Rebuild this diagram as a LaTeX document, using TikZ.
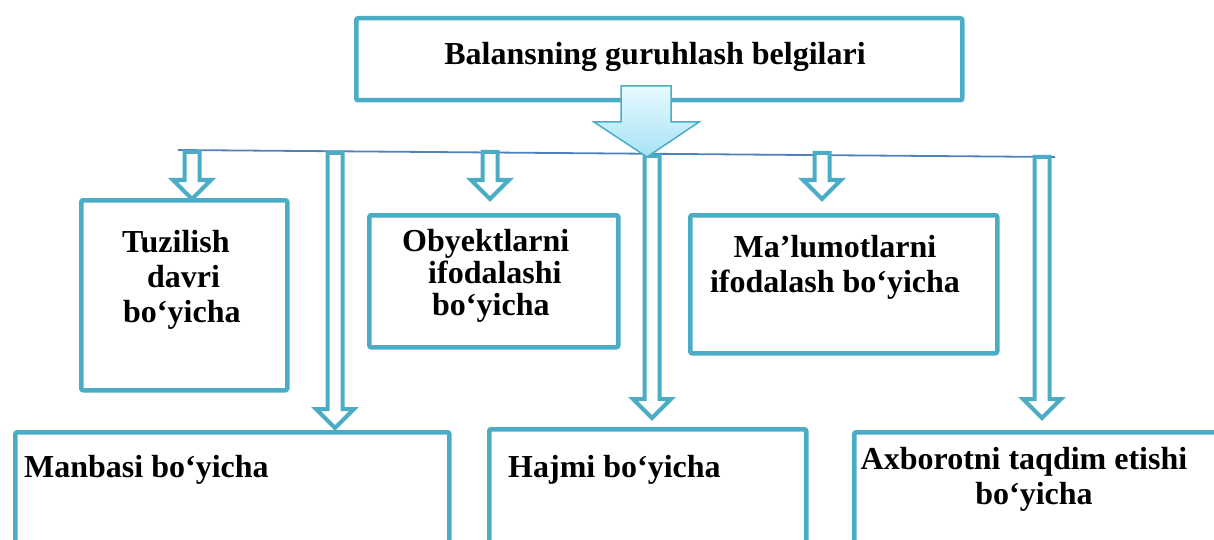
\documentclass[tikz,border=0pt]{standalone}
\usepackage{fontspec}
\setmainfont{Liberation Serif}
\usetikzlibrary{positioning}
\definecolor{boxblue}{HTML}{4BACC6}
\definecolor{lineblue}{HTML}{4F81BD}
\definecolor{arrowtop}{HTML}{E8F9FF}
\definecolor{arrowbot}{HTML}{A6E3F5}

\begin{document}
\begin{tikzpicture}[x=1pt, y=-1pt, line join=miter,
    box/.style={draw=boxblue, line width=4.5pt, rounded corners=2pt, inner sep=0pt, anchor=north west},
    label text/.style={font=\fontsize{32}{35}\selectfont\bfseries, align=center, inner sep=0pt},
    harrow/.style={draw=boxblue, line width=4pt, fill=white}]
   \useasboundingbox (0,0) rectangle (1214,540);
   \clip (0,0) rectangle (1214,540);

   % boxes
   \node[box, minimum width=606pt, minimum height=82pt] (head) at (354,16) {};
   \node[box, minimum width=206pt, minimum height=190pt] (tuzilish) at (79,198) {};
   \node[box, minimum width=249pt, minimum height=132pt] (obyekt) at (367,213) {};
   \node[box, minimum width=307pt, minimum height=138pt] (malumot) at (688,213) {};
   \node[box, minimum width=434pt, minimum height=150pt] (manba) at (13,430) {};
   \node[box, minimum width=317pt, minimum height=150pt] (hajm) at (487,427) {};
   \node[box, minimum width=400pt, minimum height=150pt] (axborot) at (852,430) {};

   % texts
   \node[label text] (title) at (655,57) {Balansning guruhlash belgilari};
   \node[label text, align=left, anchor=west] (tuztext) at (122,280) {Tuzilish\\ \hspace*{25pt}davri\\ \hspace*{1pt}bo‘yicha};
   \node[label text, align=left, anchor=west, font=\fontsize{32}{32}\selectfont\bfseries] (obytext) at (402,276) {Obyektlarni\\ \hspace*{26pt}ifodalashi\\ \hspace*{30pt}bo‘yicha};
   \node[label text] (maltext) at (835,267) {Ma’lumotlarni\\ ifodalash bo‘yicha};
   \node[label text, anchor=west] (mantext) at (24,470) {Manbasi bo‘yicha};
   \node[label text, anchor=west] (hajtext) at (508,470) {Hajmi bo‘yicha};
   \node[label text] (axbtext) at (1024,479) {Axborotni taqdim etishi\\ \hspace*{20pt}bo‘yicha};

   % dividing line
   \coordinate (lineL) at (178,150);
   \coordinate (lineR) at (1055,157);
   \draw[lineblue, line width=1.8pt] (lineL) -- (lineR);

   % hollow arrows: x / top / tip
   \foreach \ax/\at/\ab in {192/152/199, 490/152/199, 822/153/199, 335/153/428, 652/156/418, 1042/157/418}
     \draw[harrow] (\ax-7.5,\at) -- (\ax+7.5,\at) -- (\ax+7.5,\ab-19) -- (\ax+19,\ab-19)
        -- (\ax,\ab) -- (\ax-19,\ab-19) -- (\ax-7.5,\ab-19) -- cycle;

   % big arrow from the title box
   \draw[draw=boxblue, line width=1.5pt, top color=arrowtop, bottom color=arrowbot]
     (621,86) -- (671,86) -- (671,122) -- (699,122) -- (647,157) -- (594,122) -- (621,122) -- cycle;
\end{tikzpicture}
\end{document}
